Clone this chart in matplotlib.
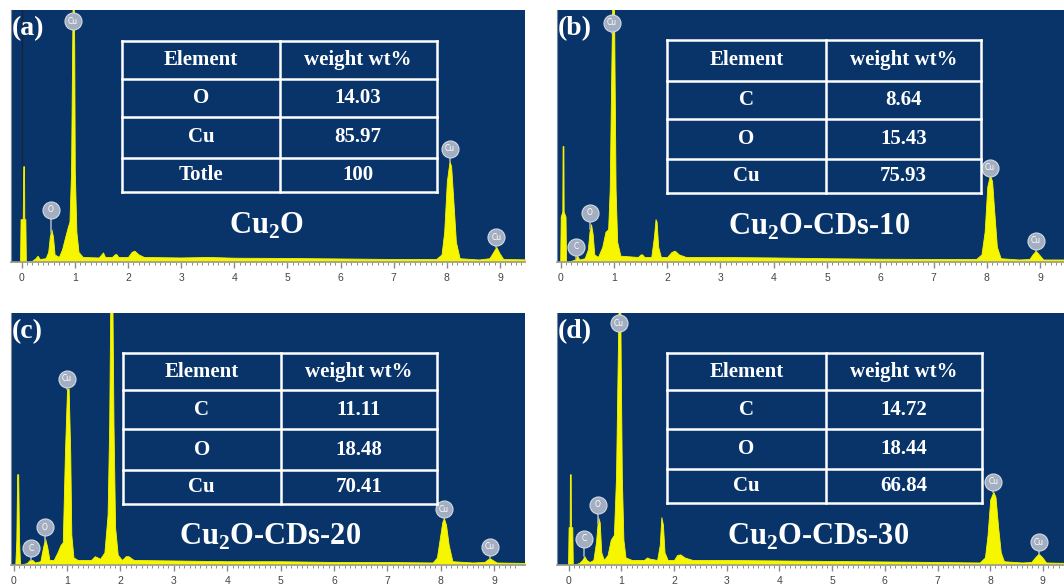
"""EDS spectra of Cu2O and Cu2O-CDs composites, four panels."""

import matplotlib
matplotlib.use("Agg")
import matplotlib.pyplot as plt
import numpy as np

plt.rcParams["mathtext.fontset"] = "custom"
plt.rcParams["mathtext.bf"] = "Liberation Serif:bold"
plt.rcParams["mathtext.rm"] = "Liberation Serif:bold"

BLUE = "#08346a"
YELLOW = "#f6f600"
BADGE = "#a3aec0"
SERIF = "Liberation Serif"

# ---- spectra outlines (keV, fraction of panel height) ----
energy_a = [-0.25, -0.03, -0.02, 0.02, 0.03, 0.045, 0.05, 0.07, 0.08, 0.2, 0.26, 0.3, 0.34,
            0.45, 0.5, 0.53, 0.56, 0.59, 0.62, 0.7, 0.76, 0.82, 0.87, 0.9, 0.93, 0.95, 0.96,
            0.98, 0.99, 1.0, 1.03, 1.07, 1.15, 1.45, 1.5, 1.53, 1.57, 1.7, 1.75, 1.78, 1.82,
            2.0, 2.07, 2.12, 2.2, 2.3, 3.0, 3.5, 4.0, 5.0, 6.0, 7.0, 7.8, 7.9, 7.95, 8.0,
            8.05, 8.08, 8.12, 8.17, 8.24, 8.6, 8.8, 8.86, 8.93, 8.99, 9.06, 9.6]
counts_a = [0, 0, 0.17, 0.17, 0.38, 0.38, 0.17, 0.17, 0.0, 0.005, 0.015, 0.025, 0.012,
            0.015, 0.04, 0.10, 0.13, 0.10, 0.03, 0.02, 0.05, 0.10, 0.14, 0.16, 0.36, 0.84, 1.05,
            1.05, 0.84, 0.36, 0.12, 0.04, 0.02, 0.018, 0.03, 0.038, 0.02, 0.02, 0.03, 0.032, 0.02,
            0.02, 0.04, 0.045, 0.03, 0.02, 0.018, 0.02, 0.017, 0.016, 0.014, 0.012, 0.012, 0.03, 0.12, 0.32,
            0.40, 0.38, 0.25, 0.08, 0.015, 0.01, 0.015, 0.035, 0.06, 0.035, 0.012, 0.01]

energy_b = [-0.1, -0.01, 0.0, 0.03, 0.035, 0.05, 0.055, 0.09, 0.1, 0.2, 0.27, 0.31, 0.35,
            0.45, 0.51, 0.54, 0.57, 0.6, 0.63, 0.7, 0.78, 0.84, 0.89, 0.92, 0.95, 0.97,
            1.0, 1.01, 1.03, 1.06, 1.12, 1.45, 1.5, 1.53, 1.57, 1.7, 1.75, 1.78, 1.8, 1.83,
            1.88, 2.0, 2.08, 2.14, 2.22, 2.35, 3.0, 4.0, 5.0, 6.0, 7.0, 7.8, 7.9, 7.96, 8.01,
            8.06, 8.1, 8.14, 8.19, 8.26, 8.6, 8.8, 8.86, 8.92, 8.98, 9.06, 9.6]
counts_b = [0, 0, 0.18, 0.2, 0.46, 0.46, 0.2, 0.18, 0.0, 0.005, 0.01, 0.025, 0.01,
            0.015, 0.05, 0.12, 0.15, 0.11, 0.03, 0.02, 0.06, 0.12, 0.13, 0.29, 0.77, 1.05,
            1.05, 0.77, 0.29, 0.08, 0.025, 0.02, 0.03, 0.03, 0.02, 0.02, 0.10, 0.17, 0.16, 0.06,
            0.02, 0.02, 0.04, 0.045, 0.03, 0.02, 0.02, 0.018, 0.015, 0.013, 0.012, 0.012, 0.03, 0.12, 0.30,
            0.345, 0.32, 0.20, 0.06, 0.015, 0.01, 0.012, 0.03, 0.045, 0.03, 0.01, 0.01]

energy_c = [-0.1, 0.03, 0.05, 0.065, 0.085, 0.1, 0.12, 0.25, 0.3, 0.35, 0.4, 0.5, 0.55,
            0.59, 0.63, 0.67, 0.75, 0.82, 0.88, 0.92, 0.96, 1.0, 1.03, 1.06, 1.08, 1.12,
            1.2, 1.45, 1.52, 1.57, 1.62, 1.7, 1.76, 1.79, 1.81, 1.85, 1.87, 1.9, 1.95, 2.03,
            2.1, 2.15, 2.25, 3.0, 4.0, 5.0, 6.0, 7.0, 7.85, 7.93, 7.98, 8.03, 8.06, 8.1,
            8.15, 8.22, 8.6, 8.82, 8.88, 8.92, 8.97, 9.05, 9.6]
counts_c = [0, 0, 0.1, 0.36, 0.36, 0.1, 0.0, 0.008, 0.02, 0.02, 0.01, 0.015, 0.07,
            0.105, 0.07, 0.02, 0.02, 0.05, 0.08, 0.09, 0.44, 0.70, 0.70, 0.44, 0.12, 0.03,
            0.02, 0.02, 0.035, 0.03, 0.025, 0.05, 0.2, 0.56, 1.05, 1.05, 0.56, 0.15, 0.04, 0.02,
            0.035, 0.035, 0.02, 0.018, 0.015, 0.015, 0.012, 0.012, 0.01, 0.03, 0.10, 0.17, 0.186, 0.16,
            0.08, 0.015, 0.01, 0.012, 0.022, 0.027, 0.02, 0.01, 0.008]

energy_d = [-0.25, -0.01, 0.0, 0.02, 0.025, 0.04, 0.045, 0.07, 0.08, 0.2, 0.26, 0.3, 0.34,
            0.4, 0.47, 0.52, 0.56, 0.59, 0.62, 0.67, 0.74, 0.8, 0.86, 0.9, 0.93, 0.95, 0.98,
            0.99, 1.01, 1.04, 1.08, 1.2, 1.43, 1.49, 1.54, 1.68, 1.73, 1.76, 1.79, 1.82, 1.88,
            2.0, 2.06, 2.12, 2.2, 2.35, 3.0, 4.0, 5.0, 6.0, 7.0, 7.8, 7.9, 7.95, 8.0, 8.06,
            8.1, 8.15, 8.2, 8.26, 8.6, 8.78, 8.85, 8.92, 8.99, 9.06, 9.5]
counts_d = [0, 0, 0.15, 0.15, 0.36, 0.36, 0.15, 0.15, 0.0, 0.008, 0.02, 0.035, 0.02,
            0.012, 0.02, 0.09, 0.19, 0.17, 0.05, 0.02, 0.04, 0.1, 0.12, 0.35, 0.78, 1.05, 1.05,
            0.78, 0.35, 0.1, 0.03, 0.02, 0.02, 0.03, 0.025, 0.02, 0.08, 0.19, 0.16, 0.05, 0.02,
            0.02, 0.04, 0.042, 0.03, 0.02, 0.02, 0.018, 0.016, 0.014, 0.012, 0.01, 0.03, 0.12, 0.26, 0.29,
            0.27, 0.15, 0.05, 0.015, 0.01, 0.012, 0.03, 0.045, 0.03, 0.01, 0.008]

# ---- peak badges: element, energy, badge height ----
badge_el_a = ["O", "Cu", "Cu", "Cu"]
badge_e_a = [0.55, 0.96, 8.05, 8.93]
badge_h_a = [0.207, 0.955, 0.45, 0.098]

badge_el_b = ["C", "O", "Cu", "Cu", "Cu"]
badge_e_b = [0.29, 0.55, 0.96, 8.06, 8.92]
badge_h_b = [0.06, 0.195, 0.95, 0.375, 0.084]

badge_el_c = ["C", "O", "Cu", "Cu", "Cu"]
badge_e_c = [0.33, 0.58, 1.0, 8.06, 8.92]
badge_h_c = [0.066, 0.149, 0.74, 0.222, 0.073]

badge_el_d = ["C", "O", "Cu", "Cu", "Cu"]
badge_e_d = [0.3, 0.55, 0.95, 8.06, 8.92]
badge_h_d = [0.105, 0.24, 0.96, 0.33, 0.09]

# ---- tables ----
panel_letters = ["(a)", "(b)", "(c)", "(d)"]
sample_names = [r"Cu$_\mathbf{2}$O", r"Cu$_\mathbf{2}$O-CDs-10",
                r"Cu$_\mathbf{2}$O-CDs-20", r"Cu$_\mathbf{2}$O-CDs-30"]
table_header = ["Element", "weight wt%"]
table_elements = [["O", "Cu", "Totle"], ["C", "O", "Cu"], ["C", "O", "Cu"], ["C", "O", "Cu"]]
table_weights = [["14.03", "85.97", "100"], ["8.64", "15.43", "75.93"],
                 ["11.11", "18.48", "70.41"], ["14.72", "18.44", "66.84"]]

spectra = [(energy_a, counts_a), (energy_b, counts_b), (energy_c, counts_c), (energy_d, counts_d)]
badges = [(badge_el_a, badge_e_a, badge_h_a), (badge_el_b, badge_e_b, badge_h_b),
          (badge_el_c, badge_e_c, badge_h_c), (badge_el_d, badge_e_d, badge_h_d)]

W, H = 1064, 585
# pixel boxes (left, top, right, bottom) and x ranges in keV
boxes = [(11, 10, 525, 262), (557, 10, 1064, 262), (11, 313, 525, 565), (557, 313, 1064, 565)]
xlims = [(-0.2, 9.47), (-0.07, 9.45), (-0.05, 9.58), (-0.22, 9.35)]
# table geometry in axes fraction: left, divider, right, row lines top->bottom
tables = [
    (0.216, 0.523, 0.828, [0.876, 0.726, 0.577, 0.414, 0.278]),
    (0.217, 0.530, 0.837, [0.880, 0.720, 0.569, 0.408, 0.272]),
    (0.217, 0.525, 0.829, [0.840, 0.693, 0.538, 0.378, 0.243]),
    (0.217, 0.530, 0.839, [0.841, 0.694, 0.539, 0.380, 0.245]),
]
name_pos = [(0.497, 0.145), (0.517, 0.138), (0.503, 0.11), (0.514, 0.113)]

fig = plt.figure(figsize=(W / 100, H / 100), dpi=100)
fig.patch.set_facecolor("white")

for i in range(4):
    l, t, r, b = boxes[i]
    ax = fig.add_axes([l / W, 1 - b / H, (r - l) / W, (b - t) / H])
    ax.set_facecolor(BLUE)
    ax.set_xlim(*xlims[i])
    ax.set_ylim(0, 1)

    if i == 0:
        # dark marker line at 0 keV seen in panel (a)
        ax.axvline(0, color="#1b2333", lw=0.9, zorder=1)

    e, c = spectra[i]
    ax.fill_between(e, c, 0, color=YELLOW, lw=0.6, edgecolor=YELLOW, zorder=2)

    # element badges
    els, be, bh = badges[i]
    for el, x, h in zip(els, be, bh):
        top = np.interp(x, e, c)
        ax.plot([x, x], [min(top, h), h], color=BADGE, lw=1.2, zorder=3)
        ax.scatter([x], [h], s=150, color=BADGE, edgecolor="#d3dae6", lw=0.8, zorder=4)
        ax.text(x, h, el, color="white", fontsize=5.5, ha="center", va="center",
                family="DejaVu Sans", zorder=5)

    # table
    tl, td, tr, rows = tables[i]
    for y in rows:
        ax.plot([tl, tr], [y, y], color="white", lw=1.8, transform=ax.transAxes, zorder=6)
    for x in (tl, td, tr):
        ax.plot([x, x], [rows[0], rows[-1]], color="white", lw=1.8, transform=ax.transAxes, zorder=6)
    cells = [table_header] + [[a, w] for a, w in zip(table_elements[i], table_weights[i])]
    for k, (c1, c2) in enumerate(cells):
        yc = (rows[k] + rows[k + 1]) / 2
        for txt, xc in ((c1, (tl + td) / 2), (c2, (td + tr) / 2)):
            ax.text(xc, yc, txt, transform=ax.transAxes, color="white", fontsize=15,
                    fontweight="bold", family=SERIF, ha="center", va="center", zorder=7)

    nx, ny = name_pos[i]
    ax.text(nx, ny, sample_names[i], transform=ax.transAxes, color="white", fontsize=22,
            fontweight="bold", family=SERIF, ha="center", va="center", zorder=7)
    ax.text(0.002, 0.925, panel_letters[i], transform=ax.transAxes, color="white", fontsize=20,
            fontweight="bold", family=SERIF, ha="left", va="center", zorder=7)

    # axis styling
    for side in ("top", "right"):
        ax.spines[side].set_visible(False)
    ax.spines["left"].set_color("#7f8a99")
    ax.spines["left"].set_linewidth(0.8)
    ax.spines["bottom"].set_color("#9a9a9a")
    ax.spines["bottom"].set_linewidth(1.2)
    ax.set_yticks([])
    ax.set_xticks(range(10))
    ax.set_xticks(np.arange(0, 9.5, 0.1), minor=True)
    ax.tick_params(axis="x", which="major", length=4, width=1.0, color="#8a8a8a",
                   labelsize=7.5, labelcolor="#444444", pad=4)
    ax.tick_params(axis="x", which="minor", length=2.5, width=0.7, color="#8a8a8a")
    for lab in ax.get_xticklabels():
        lab.set_family("Liberation Sans")

fig.savefig("out.png", dpi=100, facecolor="white")
